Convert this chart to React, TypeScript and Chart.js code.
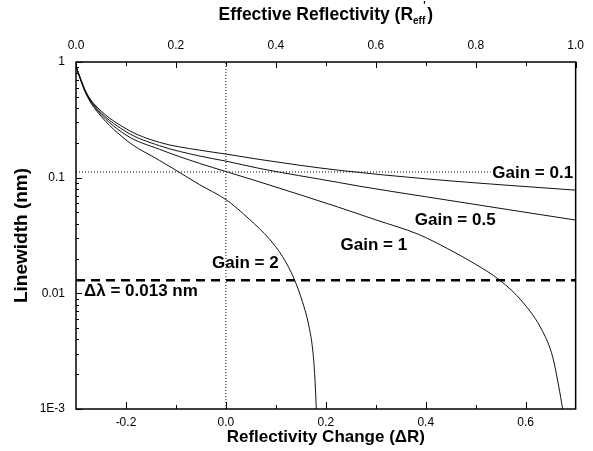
import { useEffect, useRef } from "react";
import { Chart, registerables } from "chart.js";

Chart.register(...registerables);

// ---- Data ----
const gain01DeltaR = [-0.3, -0.29, -0.28, -0.265, -0.2, -0.133, -0.053, 0, 0.066, 0.148, 0.225, 0.4, 0.563, 0.7];
const gain01Width = [0.92, 0.7, 0.55, 0.44, 0.265, 0.202, 0.173, 0.16, 0.144, 0.128, 0.116, 0.0977, 0.086, 0.078];

const gain05DeltaR = [-0.3, -0.29, -0.28, -0.265, -0.2, -0.133, -0.053, 0, 0.066, 0.225, 0.265, 0.4, 0.563, 0.7];
const gain05Width = [0.92, 0.7, 0.55, 0.43, 0.25, 0.189, 0.154, 0.139, 0.1205, 0.091, 0.0847, 0.0684, 0.0531, 0.043];

const gain1DeltaR = [-0.3, -0.29, -0.28, -0.265, -0.2, -0.133, -0.053, 0, 0.066, 0.15, 0.225, 0.3, 0.385, 0.444, 0.5, 0.548, 0.594, 0.634, 0.654, 0.666, 0.674];
const gain1Width = [0.92, 0.69, 0.54, 0.42, 0.234, 0.176, 0.133, 0.113, 0.0923, 0.0708, 0.0556, 0.0432, 0.0324, 0.0243, 0.0178, 0.013, 0.0084, 0.00468, 0.00282, 0.00158, 0.001];

const gain2DeltaR = [-0.3, -0.29, -0.28, -0.265, -0.2, -0.133, -0.1, -0.053, 0, 0.047, 0.087, 0.113, 0.136, 0.153, 0.166, 0.174, 0.178, 0.181];
const gain2Width = [0.92, 0.68, 0.53, 0.41, 0.212, 0.141, 0.116, 0.0871, 0.0646, 0.0437, 0.0295, 0.0209, 0.0135, 0.0085, 0.00525, 0.00316, 0.0019, 0.001];

const markerDeltaR = 0;
const markerWidth = 0.112;
const resolutionWidth = 0.013;

const gainLabels = ["Gain = 0.1", "Gain = 0.5", "Gain = 1", "Gain = 2"];
const resolutionLabel = "\u0394\u03bb = 0.013 nm";

const bottomTickValues = [-0.2, 0, 0.2, 0.4, 0.6];
const bottomTickLabels = ["-0.2", "0.0", "0.2", "0.4", "0.6"];
const bottomMinorTicks = [-0.1, 0.1, 0.3, 0.5];
const topTickValues = [0, 0.2, 0.4, 0.6, 0.8, 1.0];
const topTickLabels = ["0.0", "0.2", "0.4", "0.6", "0.8", "1.0"];
const topMinorTicks = [0.1, 0.3, 0.5, 0.7, 0.9];
const yTickValues = [0.001, 0.01, 0.1, 1];
const yTickLabels = ["1E-3", "0.01", "0.1", "1"];
const yMinorMantissas = [2, 3, 4, 5, 6, 7, 8, 9];
const yMinorDecades = [0.001, 0.01, 0.1];

// label anchors (data coordinates)
const gainLabelAnchors = [
  { x: 0.614, y: 0.11 },
  { x: 0.459, y: 0.043 },
  { x: 0.296, y: 0.026 },
  { x: 0.039, y: 0.018 },
];
const resolutionLabelAnchor = { x: -0.17, y: 0.0105 };

const FONT = '"Liberation Sans", Arial, Helvetica, sans-serif';

const pts = (xs: number[], ys: number[]) => xs.map((x, i) => ({ x, y: ys[i] }));

const curve = (label: string, xs: number[], ys: number[]) => ({
  label,
  data: pts(xs, ys),
  borderColor: "#111",
  borderWidth: 1,
  pointRadius: 0,
  fill: false,
  cubicInterpolationMode: "monotone" as const,
});

const decorPlugin = {
  id: "decor",
  afterDraw(chart: any) {
    const { ctx, chartArea: a, scales } = chart;
    const xs = scales.x;
    const xt = scales.xTop;
    const ys = scales.y;
    ctx.save();
    ctx.strokeStyle = "#000";
    ctx.lineWidth = 1.5;
    ctx.strokeRect(a.left, a.top, a.right - a.left, a.bottom - a.top);

    ctx.lineWidth = 1;
    const line = (x1: number, y1: number, x2: number, y2: number) => {
      ctx.beginPath();
      ctx.moveTo(x1, y1);
      ctx.lineTo(x2, y2);
      ctx.stroke();
    };
    bottomTickValues.forEach((v) => {
      const p = Math.round(xs.getPixelForValue(v)) + 0.5;
      line(p, a.bottom, p, a.bottom - 7);
    });
    bottomMinorTicks.forEach((v) => {
      const p = Math.round(xs.getPixelForValue(v)) + 0.5;
      line(p, a.bottom, p, a.bottom - 4);
    });
    topTickValues.forEach((v) => {
      const p = Math.round(xt.getPixelForValue(v)) + 0.5;
      line(p, a.top, p, a.top + 6);
    });
    topMinorTicks.forEach((v) => {
      const p = Math.round(xt.getPixelForValue(v)) + 0.5;
      line(p, a.top, p, a.top + 4);
    });
    yTickValues.forEach((v) => {
      const p = Math.round(ys.getPixelForValue(v)) + 0.5;
      line(a.left, p, a.left + 6, p);
    });
    yMinorDecades.forEach((d) =>
      yMinorMantissas.forEach((m) => {
        const p = Math.round(ys.getPixelForValue(m * d)) + 0.5;
        line(a.left, p, a.left + 3, p);
      })
    );

    ctx.fillStyle = "#000";
    ctx.textBaseline = "middle";
    ctx.textAlign = "center";
    ctx.font = `bold 17px ${FONT}`;
    const cx = (a.left + a.right) / 2;
    ctx.fillText("Reflectivity Change (\u0394R)", cx, 437);

    ctx.save();
    ctx.translate(22, (a.top + a.bottom) / 2);
    ctx.rotate(-Math.PI / 2);
    ctx.font = `bold 19px ${FONT}`;
    ctx.fillText("Linewidth (nm)", 0, 0);
    ctx.restore();

    // top title with subscript
    const main = "Effective Reflectivity (R";
    const sub = "eff";
    const sup = "'";
    const close = ")";
    ctx.font = `bold 17.5px ${FONT}`;
    const wMain = ctx.measureText(main).width;
    const wClose = ctx.measureText(close).width;
    ctx.font = `bold 10px ${FONT}`;
    const wSub = ctx.measureText(sub).width;
    const total = wMain + wSub + 2 + wClose;
    let x0 = cx - total / 2;
    const ty = 15;
    ctx.textAlign = "left";
    ctx.font = `bold 17.5px ${FONT}`;
    ctx.fillText(main, x0, ty);
    x0 += wMain;
    ctx.font = `bold 10px ${FONT}`;
    ctx.fillText(sub, x0, ty + 6);
    ctx.fillText(sup, x0 + wSub - 2, ty - 9);
    x0 += wSub + 2;
    ctx.font = `bold 17.5px ${FONT}`;
    ctx.fillText(close, x0, ty);

    // curve labels
    ctx.textAlign = "center";
    ctx.font = `bold 17px ${FONT}`;
    gainLabels.forEach((t, i) => {
      const an = gainLabelAnchors[i];
      ctx.fillText(t, xs.getPixelForValue(an.x), ys.getPixelForValue(an.y));
    });
    ctx.fillText(
      resolutionLabel,
      xs.getPixelForValue(resolutionLabelAnchor.x),
      ys.getPixelForValue(resolutionLabelAnchor.y)
    );
    ctx.restore();
  },
};

export default function App() {
  const ref = useRef<HTMLCanvasElement>(null);
  useEffect(() => {
    const chart = new Chart(ref.current!, {
      type: "line",
      data: {
        datasets: [
          curve("Gain = 0.1", gain01DeltaR, gain01Width),
          curve("Gain = 0.5", gain05DeltaR, gain05Width),
          curve("Gain = 1", gain1DeltaR, gain1Width),
          curve("Gain = 2", gain2DeltaR, gain2Width),
          {
            label: "marker-v",
            data: [
              { x: markerDeltaR, y: 0.001 },
              { x: markerDeltaR, y: 1 },
            ],
            borderColor: "#000",
            borderWidth: 1,
            borderDash: [1, 2],
            pointRadius: 0,
          },
          {
            label: "marker-h",
            data: [
              { x: -0.3, y: markerWidth },
              { x: 0.53, y: markerWidth },
            ],
            borderColor: "#000",
            borderWidth: 1,
            borderDash: [1, 2],
            pointRadius: 0,
          },
          {
            label: "resolution",
            data: [
              { x: -0.3, y: resolutionWidth },
              { x: 0.7, y: resolutionWidth },
            ],
            borderColor: "#000",
            borderWidth: 2.5,
            borderDash: [9, 6],
            pointRadius: 0,
          },
        ] as any,
      },
      options: {
        animation: false,
        responsive: false,
        devicePixelRatio: 1,
        layout: { padding: { left: 0, right: 15, top: 0, bottom: 0 } },
        plugins: { legend: { display: false }, tooltip: { enabled: false } },
        scales: {
          x: {
            type: "linear",
            position: "bottom",
            min: -0.3,
            max: 0.7,
            grid: { display: false, drawTicks: false },
            border: { display: false },
            afterBuildTicks: (s: any) => {
              s.ticks = bottomTickValues.map((v) => ({ value: v }));
            },
            afterFit: (s: any) => {
              s.height = 42;
            },
            ticks: {
              autoSkip: false,
              maxRotation: 0,
              padding: 6,
              color: "#000",
              font: { family: FONT, size: 12 },
              callback: (_v: any, i: number) => bottomTickLabels[i],
            },
          },
          xTop: {
            type: "linear",
            position: "top",
            min: 0,
            max: 1,
            grid: { display: false, drawTicks: false },
            border: { display: false },
            afterBuildTicks: (s: any) => {
              s.ticks = topTickValues.map((v) => ({ value: v }));
            },
            afterFit: (s: any) => {
              s.height = 62;
            },
            ticks: {
              autoSkip: false,
              maxRotation: 0,
              padding: 9,
              color: "#000",
              font: { family: FONT, size: 12 },
              callback: (_v: any, i: number) => topTickLabels[i],
            },
          },
          y: {
            type: "logarithmic",
            position: "left",
            min: 0.001,
            max: 1,
            grid: { display: false, drawTicks: false },
            border: { display: false },
            afterBuildTicks: (s: any) => {
              s.ticks = yTickValues.map((v) => ({ value: v }));
            },
            afterFit: (s: any) => {
              s.width = 76;
            },
            ticks: {
              autoSkip: false,
              padding: 11,
              color: "#000",
              font: { family: FONT, size: 12 },
              callback: (_v: any, i: number) => yTickLabels[i],
            },
          },
        },
      } as any,
      plugins: [decorPlugin],
    });
    return () => chart.destroy();
  }, []);
  return (
    <div style={{ position: "absolute", left: 0, top: 0, width: 593, height: 451, background: "#fff" }}>
      <canvas ref={ref} width={593} height={451} style={{ display: "block", width: 593, height: 451 }} />
    </div>
  );
}
